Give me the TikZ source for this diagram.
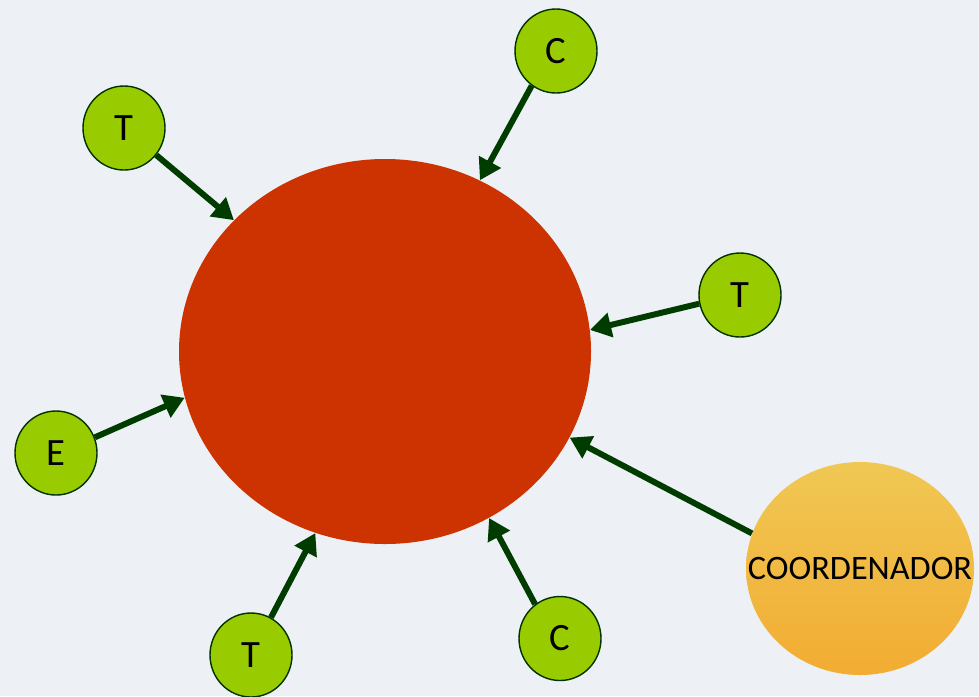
\documentclass[tikz,border=0pt]{standalone}
\usepackage{fontspec}
\setmainfont{Carlito}
\usetikzlibrary{shapes.geometric,arrows.meta}
\definecolor{nucleo}{RGB}{204,51,0}
\definecolor{folha}{RGB}{153,204,0}
\definecolor{borda}{RGB}{0,51,0}
\definecolor{seta}{RGB}{0,60,0}
\definecolor{fundo}{RGB}{237,240,245}
\definecolor{ourocima}{RGB}{240,200,84}
\definecolor{ourobaixo}{RGB}{242,172,50}

\begin{document}
\begin{tikzpicture}[x=0.2mm,y=-0.2mm]
  \tikzset{> = {Triangle[length=4.2mm,width=4.8mm]}}
  \tikzset{membro/.style = {ellipse, draw = borda, line width = 0.8pt, fill = folha,
                            minimum width = 16.4mm, minimum height = 16.8mm, inner sep = 0pt,
                            font = \fontsize{22}{26}\selectfont}}
  \tikzset{ligacao/.style = {->, seta, line width = 3.4pt}}
  \useasboundingbox (0,0) rectangle (979,696);
  \fill[fundo] (0,0) rectangle (979,696);
  % centro
  \node[ellipse, fill = nucleo, minimum width = 82.4mm, minimum height = 77mm] (nucleo) at (385,351.5) {};
  % membros
  \node[membro] (t1) at (124,128) {T};
  \node[membro] (c1) at (556,51) {C};
  \node[membro] (t2) at (740,295) {T};
  \node[membro] (e) at (56,453) {E};
  \node[membro] (t3) at (251,655) {T};
  \node[membro] (c2) at (560,638.5) {C};
  \node[ellipse, top color = ourocima, bottom color = ourobaixo, inner sep = 0pt,
        minimum width = 45.6mm, minimum height = 42.6mm,
        label = {[font = \fontsize{19.5}{23}\selectfont]center:COORDENADOR}] (coord) at (860,568.5) {};
  % setas
  \draw[ligacao] (t1.-40) -- (nucleo.139);
  \draw[ligacao] (c1.235) -- (nucleo.61);
  \draw[ligacao] (t2.192) -- (nucleo.6.5);
  \draw[ligacao] (e.22) -- (nucleo.193);
  \draw[ligacao] (coord.162) -- (nucleo.-25);
  \draw[ligacao] (t3.62) -- (nucleo.-111);
  \draw[ligacao] (c2.126) -- (nucleo.-58.5);
\end{tikzpicture}
\end{document}
